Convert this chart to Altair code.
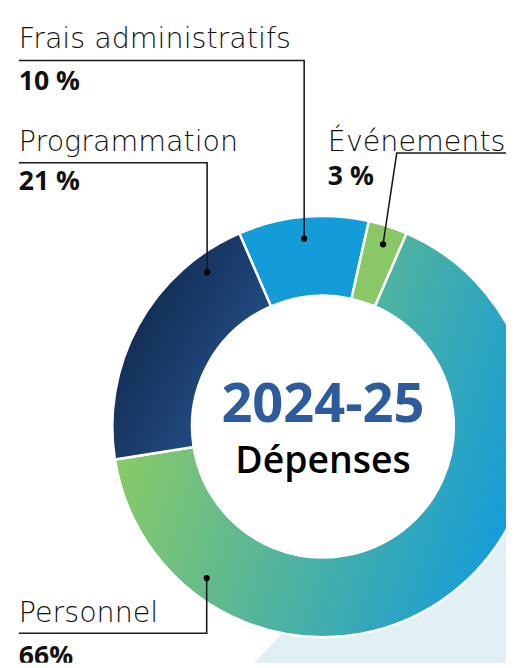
import math
import altair as alt
import pandas as pd

# ---- data ----
categories = ["Frais administratifs", "Événements", "Personnel", "Programmation"]
values = [10, 3, 66, 21]
pct_labels = ["10 %", "3 %", "66%", "21 %"]
center_title = "2024-25"
center_subtitle = "Dépenses"

# ---- layout ----
W, H = 506, 660
CX, CY = 320, 420
R_OUT, R_IN = 214, 133
START_DEG = -23.4
dot_angle_deg = [-5.7, 18.25, 217.5, 323.1]
dot_radius = [192, 195, 194, 196]
label_x = [11, 325, 11, 11]
name_y = [35, 140, 619, 140]
pct_y = [78, 175, 662, 180]
line_y = [48, 142, 630, 152]
line_end_x = [11, 506, 11, 11]
elbow_x = [None, 395, None, None]
NAME_FONT = "DejaVu Sans"
FONT = "Open Sans"

fills = {
    "Frais administratifs": "#149CD8",
    "Événements": "#8AC766",
    "Personnel": alt.LinearGradient(
        gradient="linear", x1=0.154, y1=0.049, x2=1.063, y2=0.336,
        stops=[alt.GradientStop(color="#8BCB66", offset=0),
               alt.GradientStop(color="#159CD8", offset=1)]),
    "Programmation": alt.LinearGradient(
        gradient="linear", x1=0, y1=0.1, x2=1, y2=0.9,
        stops=[alt.GradientStop(color="#0A2140", offset=0),
               alt.GradientStop(color="#2C5A9A", offset=1)]),
}

df = pd.DataFrame({"category": categories, "value": values, "pct": pct_labels})
df["end"] = df["value"].cumsum()
df["start"] = df["end"] - df["value"]

s = math.radians(START_DEG) + 2 * math.pi
theta_scale = alt.Scale(domain=[0, 100], range=[s, s + 2 * math.pi])

# background decoration
bg = pd.DataFrame({"x": [250, 506], "y": [660, 394], "y2": [660, 660]})
bg_layer = alt.Chart(bg).mark_area(color="#E0F0F5").encode(
    x=alt.X("x:Q", scale=None, axis=None),
    y=alt.Y("y:Q", scale=None, axis=None),
    y2="y2:Q",
)

# white disk behind the donut (keeps the hole white)
disk_layer = alt.Chart(pd.DataFrame({"v": [1]})).mark_arc(
    outerRadius=R_OUT, innerRadius=0, fill="white", clip=True,
).encode(theta=alt.value(0), theta2=alt.value(2 * math.pi), x=alt.value(CX), y=alt.value(CY))

arc_layers = []
for cat in categories:
    arc_layers.append(
        alt.Chart(df).transform_filter(alt.datum.category == cat).mark_arc(
            outerRadius=R_OUT, innerRadius=R_IN, fill=fills[cat],
            stroke="white", strokeWidth=2.5, clip=True,
        ).encode(
            theta=alt.Theta("start:Q", scale=theta_scale),
            theta2="end:Q",
            x=alt.value(CX), y=alt.value(CY),
        )
    )

# leader lines
rows, dots = [], []
for i, cat in enumerate(categories):
    a = math.radians(dot_angle_deg[i])
    dx = CX + dot_radius[i] * math.sin(a)
    dy = CY - dot_radius[i] * math.cos(a)
    ex = elbow_x[i] if elbow_x[i] is not None else dx
    pts = [(line_end_x[i], line_y[i]), (ex, line_y[i]), (dx, dy)]
    for k, (px, py) in enumerate(pts):
        rows.append({"category": cat, "o": k, "x": px, "y": py})
    dots.append({"category": cat, "x": dx, "y": dy})
lines_df = pd.DataFrame(rows)
dots_df = pd.DataFrame(dots)

line_layer = alt.Chart(lines_df).mark_line(color="#1a1a1a", strokeWidth=1.6, clip=True).encode(
    x=alt.X("x:Q", scale=None, axis=None),
    y=alt.Y("y:Q", scale=None, axis=None),
    detail="category:N", order="o:Q",
)
dot_layer = alt.Chart(dots_df).mark_circle(color="#000000", size=40, opacity=1).encode(
    x=alt.X("x:Q", scale=None, axis=None),
    y=alt.Y("y:Q", scale=None, axis=None),
)

lab = df.copy()
lab["lx"] = label_x
lab["ny"] = name_y
lab["py"] = pct_y
name_layer = alt.Chart(lab).mark_text(
    align="left", baseline="alphabetic", font=NAME_FONT, fontSize=29, fontWeight=300,
    color="#111111", clip=True,
).encode(
    x=alt.X("lx:Q", scale=None, axis=None),
    y=alt.Y("ny:Q", scale=None, axis=None),
    text="category:N",
)
pct_layer = alt.Chart(lab).mark_text(
    align="left", baseline="alphabetic", font=FONT, fontSize=27, fontWeight="bold",
    color="#111111", clip=True,
).encode(
    x=alt.X("lx:Q", scale=None, axis=None),
    y=alt.Y("py:Q", scale=None, axis=None),
    text="pct:N",
)

title_layer = alt.Chart(pd.DataFrame({"t": [center_title]})).mark_text(
    align="center", baseline="alphabetic", font=FONT, fontSize=55, fontWeight="bold",
    color="#2D5B9C",
).encode(x=alt.value(CX), y=alt.value(415), text="t:N")
sub_layer = alt.Chart(pd.DataFrame({"t": [center_subtitle]})).mark_text(
    align="center", baseline="alphabetic", font=FONT, fontSize=38, fontWeight=600,
    color="#000000",
).encode(x=alt.value(CX), y=alt.value(467), text="t:N")

chart = alt.layer(
    bg_layer, disk_layer, *arc_layers, line_layer, dot_layer, name_layer, pct_layer,
    title_layer, sub_layer
).properties(
    width=W, height=H, padding=0, autosize=alt.AutoSizeParams(type="none"),
    background="white",
).configure_view(stroke=None)

chart.save("out.html", embed_options={"renderer": "svg", "actions": False})
